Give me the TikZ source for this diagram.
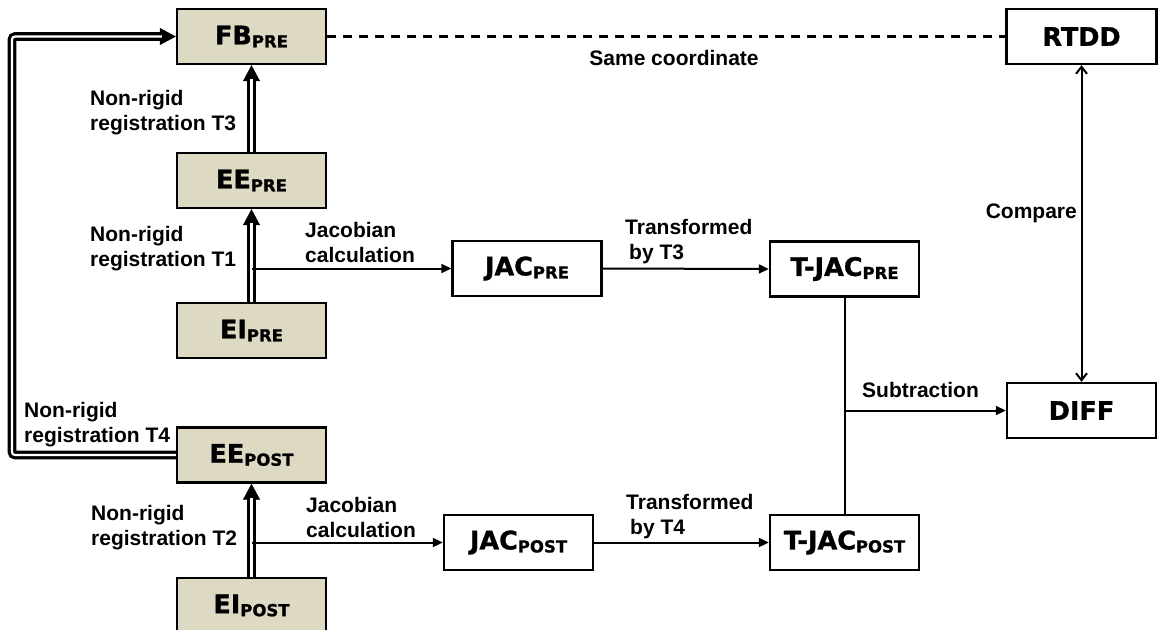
\documentclass[tikz,border=0pt]{standalone}
\usepackage{fontspec}
\setmainfont{Liberation Sans}
\newfontfamily\boxfont{DejaVu Sans}[BoldFeatures={FakeBold=1.2}]
\usetikzlibrary{arrows.meta}
\definecolor{boxtan}{HTML}{DDD9C3}
\newcommand{\bx}[2]{#1\raisebox{-3pt}{\fontsize{16.5}{16.5}\selectfont #2}}
\begin{document}
\begin{tikzpicture}[x=1pt,y=-1pt,
  nbox/.style={draw=black, line width=2.4pt, minimum width=149pt, minimum height=55pt, inner sep=0pt, font=\boxfont\bfseries\fontsize{25.5}{27}\selectfont},
  tanbox/.style={nbox, fill=boxtan},
  whitebox/.style={nbox, fill=white},
  lbl/.style={font=\bfseries\fontsize{21}{25}\selectfont, align=left, inner sep=0pt},
  arr/.style={line width=2pt, -{Triangle[length=10pt,width=9pt]}},
  dbl/.style={line width=3.2pt, double=white, double distance=2.2pt},
  dtip/.style={line width=0.5pt, -{Triangle[length=16pt,width=17pt]}},
]
\useasboundingbox (0,0) rectangle (1158,629);
% boxes
\node[tanbox] (fbpre) at (251.5,36.5) {\bx{FB}{PRE}};
\node[tanbox] (eepre) at (251.5,180.5) {\bx{EE}{PRE}};
\node[tanbox] (eipre) at (251.5,330.5) {\bx{EI}{PRE}};
\node[tanbox] (eepost) at (251.5,455) {\bx{EE}{POST}};
\node[tanbox] (eipost) at (251.5,605.5) {\bx{EI}{POST}};
\node[whitebox] (jacpre) at (527,268.5) {\bx{JAC}{PRE}};
\node[whitebox] (tjacpre) at (844.5,269) {\bx{T-JAC}{PRE}};
\node[whitebox] (jacpost) at (518.5,542.5) {\bx{JAC}{POST}};
\node[whitebox] (tjacpost) at (844.5,542.5) {\bx{T-JAC}{POST}};
\node[whitebox, minimum width=150pt] (rtdd) at (1081.5,36.5) {RTDD};
\node[whitebox, minimum width=149pt] (diff) at (1081.5,410.5) {DIFF};
% double arrows
\draw[dtip] (eipre.north) -- (eepre.south);
\draw[dbl, shorten >=14pt] (eipre.north) -- (eepre.south);
\draw[dtip] (eepre.north) -- (fbpre.south);
\draw[dbl, shorten >=14pt] (eepre.north) -- (fbpre.south);
\draw[dtip] (eipost.north) -- (eepost.south);
\draw[dbl, shorten >=14pt] (eipost.north) -- (eepost.south);
\coordinate (lc) at (12,36.5);
\draw[dtip] (lc) -- (fbpre.west);
\draw[dbl, rounded corners=3pt, shorten >=14pt] (eepost.west) -| (lc) -- (fbpre.west);
% thin arrows
\draw[arr] (eipre.north |- jacpre.west) -- (jacpre.west);
\draw[arr] (eipost.north |- jacpost.west) -- (jacpost.west);
\draw[arr] (jacpre.east) -- (tjacpre.west);
\draw[arr] (jacpost.east) -- (tjacpost.west);
\draw[line width=2pt] (tjacpre.south) -- (tjacpost.north);
\draw[arr] (tjacpre.south |- diff.west) -- (diff.west);
\draw[line width=2pt, {Straight Barb[length=7pt,width=11pt]}-{Straight Barb[length=7pt,width=11pt]}] (rtdd.south) -- (diff.north);
\draw[line width=2.5pt, dash pattern=on 9pt off 7pt] (fbpre.east) -- (rtdd.west);
% labels
\node[lbl, anchor=west] (l3) at (90,113) {Non-rigid\\registration T3};
\node[lbl, anchor=west] (l1) at (90,249) {Non-rigid\\registration T1};
\node[lbl, anchor=west] (l4) at (24,425) {Non-rigid\\registration T4};
\node[lbl, anchor=west] (l2) at (91,528) {Non-rigid\\registration T2};
\node[lbl, anchor=west] (jc1) at (305,242) {Jacobian\\calculation};
\node[lbl, anchor=west] (jc2) at (306,517) {Jacobian\\calculation};
\node[lbl, anchor=west] (tr3) at (625,242) {Transformed\\\hspace{4pt}by T3};
\node[lbl, anchor=west] (tr4) at (626,517) {Transformed\\\hspace{4pt}by T4};
\node[lbl] (same) at (674,58) {Same coordinate};
\node[lbl, anchor=east] (cmp) at (1077,213) {Compare};
\node[lbl, anchor=west] (sub) at (862,390) {Subtraction};
\end{tikzpicture}
\end{document}
